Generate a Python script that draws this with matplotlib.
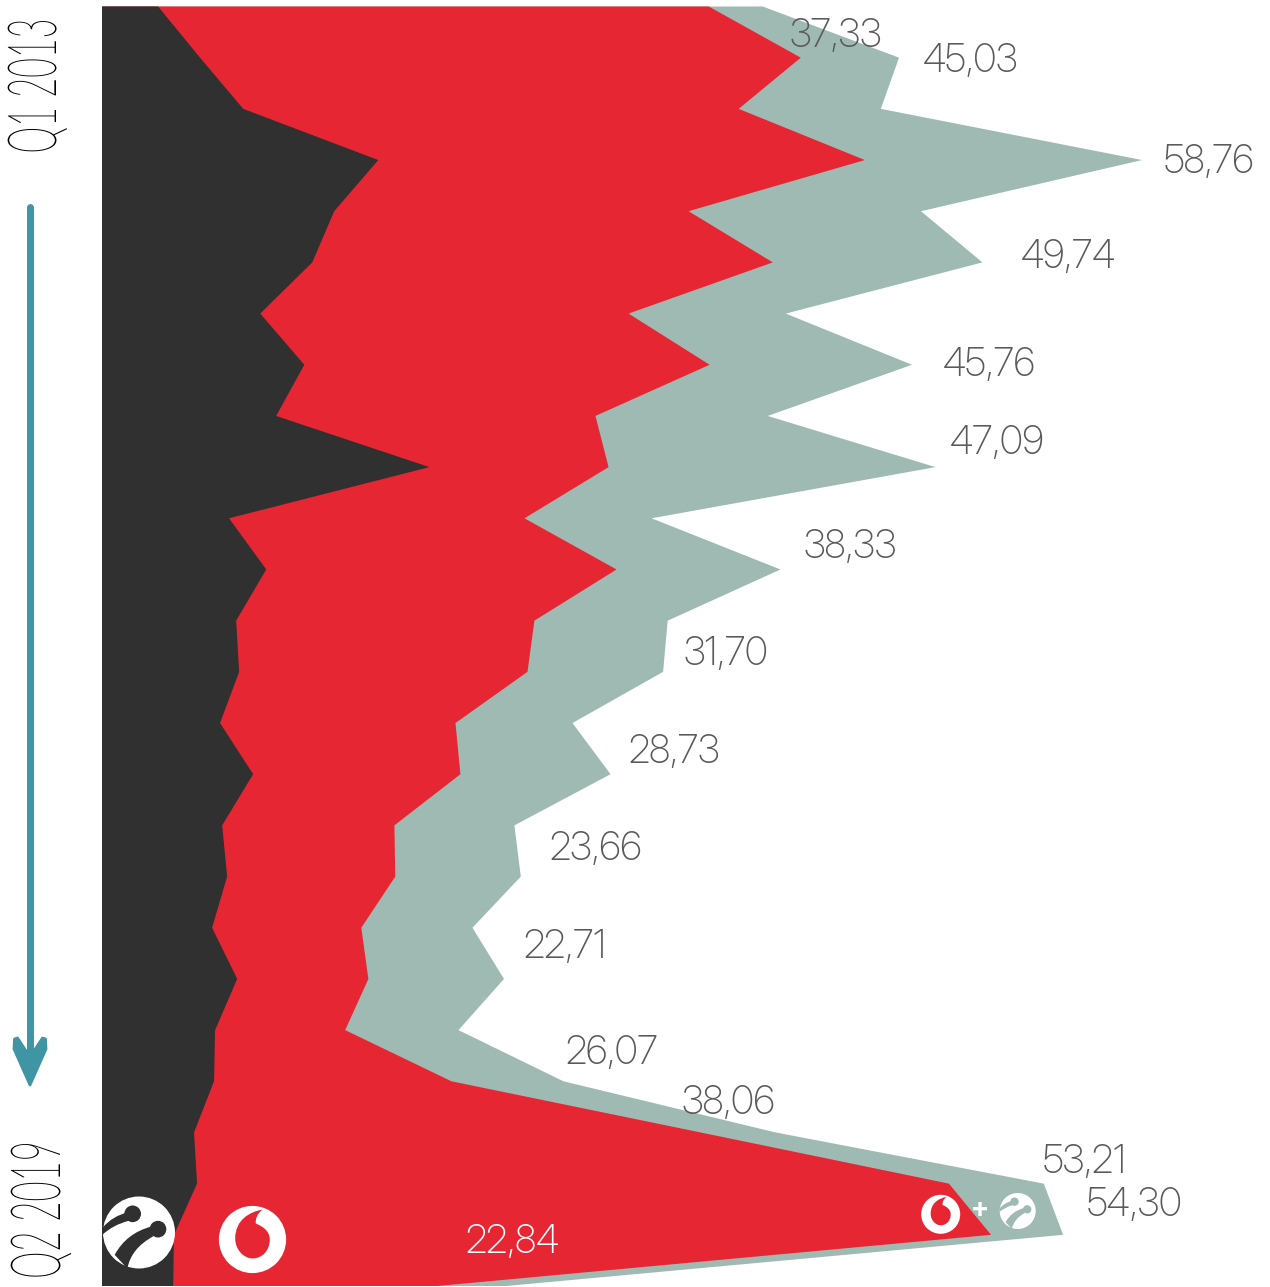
import numpy as np
import matplotlib
matplotlib.use('Agg')
import matplotlib.pyplot as plt
from matplotlib.patches import Circle, PathPatch, Polygon
from matplotlib.path import Path
from matplotlib.patheffects import AbstractPathEffect
from matplotlib.transforms import Affine2D

plt.rcParams['font.family'] = ['Inter Display', 'DejaVu Sans']

# market share per quarter, Q1 2013 .. Q2 2019 (26 quarters)
turkcell = [3.17, 5.54, 7.98, 15.61, 13.12, 11.88, 8.94, 11.43, 9.84, 18.50, 7.18, 9.28, 7.58,
            7.75, 6.67, 8.54, 6.79, 7.07, 6.22, 7.64, 6.39, 6.33, 5.20, 5.37, 4.07, 4.02]
vodafone = [31.11, 33.94, 27.99, 27.49, 20.02, 26.02, 20.81, 22.90, 18.04, 10.12, 16.69, 19.79, 16.85,
            16.29, 13.30, 11.71, 9.73, 9.50, 8.43, 7.41, 7.35, 13.41, 28.62, 42.48, 46.16, 14.93]
total = [37.33, 45.03, 44.00, 58.76, 46.27, 49.74, 38.63, 45.76, 37.61, 47.09, 31.05, 38.33, 31.96,
         31.70, 26.58, 28.73, 23.30, 23.66, 20.93, 22.71, 20.14, 26.07, 38.06, 53.21, 54.30, 22.84]

labelled_rows = [0, 1, 3, 5, 7, 9, 11, 13, 15, 17, 19, 21, 22, 23, 24, 25]
label_offsets = [(27, -31), (24, -4), (22, -3), (39, 4), (31, -1), (15, 23), (24, 21), (21, 17),
                 (18, 21), (29, 27), (20, 31), (2, 27), (-94, 28), (-1, 21), (24, 29), (-40, 43)]

BLACK = '#303030'
RED = '#E62733'
GREY = '#9FB9B3'
TEAL = '#3F95A3'
TEXT = '#5A5A5A'


class StretchX(AbstractPathEffect):
    # stretches the glyphs along screen x, there is no condensed thin font installed
    def __init__(self, cx, factor):
        self.cx = cx
        self.factor = factor

    def draw_path(self, renderer, gc, tpath, affine, rgbFace=None):
        stretch = Affine2D().translate(-self.cx, 0).scale(self.factor, 1).translate(self.cx, 0)
        renderer.draw_path(gc, tpath, affine + stretch, rgbFace)


def turkcell_logo(ov, cx, cy, r, fg):
    s = r / 108.0

    def pt(x, y):
        return (cx + (x - 123) * s, cy + (y - 128) * s)

    ov.add_patch(Circle((cx, cy), r, fc='white', ec='none'))
    ov.add_patch(Circle(pt(104, 72), 25 * s, fc=fg, ec='none'))
    ov.add_patch(Circle(pt(180, 118), 25 * s, fc=fg, ec='none'))
    stroke1 = [(88, 68), (45, 78), (15, 112), (13, 135), (45, 105), (92, 93), (88, 68)]
    stroke2 = [(160, 110), (85, 130), (50, 195), (88, 236), (100, 175), (165, 140), (160, 110)]
    codes = [Path.MOVETO, Path.CURVE3, Path.CURVE3, Path.LINETO, Path.CURVE3, Path.CURVE3, Path.CLOSEPOLY]
    for stroke in (stroke1, stroke2):
        ov.add_patch(PathPatch(Path([pt(*p) for p in stroke], codes), fc=fg, ec='none'))


def vodafone_logo(ov, cx, cy, r):
    s = r / 101.0

    def pt(x, y):
        return (cx + (x - 120) * s, cy + (y - 118) * s)

    ov.add_patch(Circle((cx, cy), r, fc='white', ec='none'))
    verts = [(150, 28), (110, 35), (68, 60), (68, 115), (68, 150), (95, 175), (120, 175),
             (150, 175), (172, 150), (172, 118), (172, 92), (150, 78), (130, 70),
             (128, 55), (135, 40), (150, 28), (150, 28)]
    codes = [Path.MOVETO] + [Path.CURVE4] * 15 + [Path.CLOSEPOLY]
    ov.add_patch(PathPatch(Path([pt(*p) for p in verts], codes), fc=RED, ec='none'))


fig = plt.figure(figsize=(12.7, 12.87), dpi=100)

# main axes: 17.7 px per share point, rows 51.16 px apart
ax = fig.add_axes([101.5 / 1270, (1287 - 1285.5) / 1287, (1270 - 101.5) / 1270, 1279.5 / 1287])
rows = np.arange(len(total))
stack1 = np.array(turkcell)
stack2 = stack1 + np.array(vodafone)
ax.fill_betweenx(rows, 0, np.array(total), color=GREY, lw=0)
ax.fill_betweenx(rows, 0, stack2, color=RED, lw=0)
ax.fill_betweenx(rows, 0, stack1, color=BLACK, lw=0)
ax.set_xlim(0, 1168.5 / 17.70)
ax.set_ylim(25, 0)
ax.axis('off')

for row, off in zip(labelled_rows, label_offsets):
    value = f'{total[row]:.2f}'.replace('.', ',')
    ax.annotate(value, xy=(total[row], row), xytext=off, textcoords='offset pixels',
                ha='left', va='center', fontsize=28, fontweight=200,
                color='white' if row == 25 else TEXT)

# overlay in pixel coordinates for the arrow, period labels and logos
ov = fig.add_axes([0, 0, 1, 1], facecolor='none')
ov.set_xlim(0, 1270)
ov.set_ylim(1287, 0)
ov.axis('off')

ov.plot([30, 30], [207, 1060], color=TEAL, lw=5, solid_capstyle='round')
head = [(30, 1085), (14, 1049), (14.5, 1039), (17.5, 1038), (30, 1057), (42.5, 1038), (45.5, 1039), (46, 1049)]
ov.add_patch(Polygon(head, closed=True, fc=TEAL, ec=TEAL, lw=2, joinstyle='round'))

ov.text(38, 86, 'Q1 2013', rotation=90, ha='center', va='center', fontsize=24.5, family='Lato', fontweight=275,
        color='black', path_effects=[StretchX(38, 2.0)])
ov.text(40, 1210, 'Q2 2019', rotation=90, ha='center', va='center', fontsize=25, family='Lato', fontweight=275,
        color='black', path_effects=[StretchX(40, 2.0)])

turkcell_logo(ov, 139, 1232.5, 36, BLACK)
vodafone_logo(ov, 252.5, 1239.5, 33.6)
vodafone_logo(ov, 940.7, 1214.3, 19.5)
turkcell_logo(ov, 1017.7, 1211, 18, GREY)
ov.text(980, 1210, '+', ha='center', va='center', fontsize=20, fontweight='bold', color='white')

fig.savefig('out.png', dpi=100)
